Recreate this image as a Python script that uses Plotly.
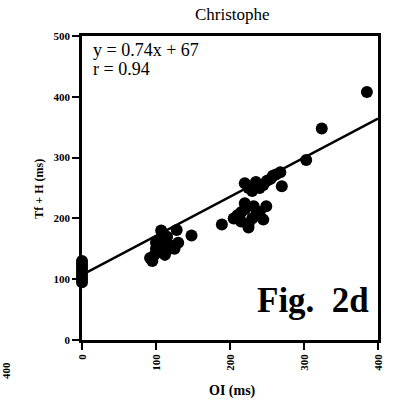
import plotly.graph_objects as go

# Data (OI in ms, Tf + H in ms)
oi = [0, 0, 0, 0, 0, 0, 0, 0,
      92, 95, 98, 100, 100, 102, 105, 108, 110, 112, 115, 107, 115, 120, 125, 128, 130, 148,
      189, 205, 210, 215, 220, 215, 225, 230, 235, 240, 245, 232, 220, 249, 225,
      220, 225, 230, 235, 240, 245, 250, 255, 262, 268, 270, 258,
      303, 324, 385]
tfh = [95, 100, 105, 110, 115, 120, 125, 130,
       135, 130, 140, 150, 160, 145, 155, 165, 150, 140, 170, 180, 148, 155, 150, 181, 160, 172,
       190, 200, 205, 210, 215, 195, 185, 200, 205, 210, 198, 220, 225, 220, 190,
       258, 250, 245, 260, 250, 255, 262, 265, 272, 276, 253, 270,
       296, 348, 408]

# Regression line as drawn in the picture (end points)
fit_x = [0, 400]
fit_y = [107, 364]

x_ticks = [0, 100, 200, 300, 400]
y_ticks = [0, 100, 200, 300, 400, 500]

SERIF = "Liberation Serif, Times New Roman, serif"

fig = go.Figure()
fig.add_trace(go.Scatter(x=fit_x, y=fit_y, mode="lines",
                         line=dict(color="black", width=2.5),
                         cliponaxis=False, hoverinfo="skip"))
fig.add_trace(go.Scatter(x=oi, y=tfh, mode="markers",
                         marker=dict(color="black", size=12),
                         cliponaxis=False))

fig.update_layout(
    width=395, height=406,
    margin=dict(l=82, r=11, t=36, b=66),
    paper_bgcolor="white", plot_bgcolor="white",
    showlegend=False,
    font=dict(family=SERIF, color="black"),
    xaxis=dict(range=[0, 400], tickvals=x_ticks, tickangle=-90,
               showgrid=False, zeroline=False,
               showline=True, linecolor="black", linewidth=2.5, mirror=True,
               ticks="outside", ticklen=7, tickwidth=2, tickcolor="black",
               tickfont=dict(family=SERIF, size=11, color="black", weight="bold")),
    yaxis=dict(range=[0, 500], tickvals=y_ticks,
               showgrid=False, zeroline=False,
               showline=True, linecolor="black", linewidth=2.5, mirror=True,
               ticks="outside", ticklen=7, tickwidth=2, tickcolor="black",
               tickfont=dict(family=SERIF, size=11, color="black", weight="bold")),
    annotations=[
        dict(text="Christophe", xref="paper", yref="paper", x=0.507, y=1.0,
             yshift=22, xanchor="center", yanchor="middle", showarrow=False,
             font=dict(family=SERIF, size=17)),
        dict(text="y = 0.74x + 67", xref="paper", yref="paper", x=0.03, y=0.955,
             xanchor="left", yanchor="middle", showarrow=False,
             font=dict(family=SERIF, size=18)),
        dict(text="r = 0.94", xref="paper", yref="paper", x=0.03, y=0.893,
             xanchor="left", yanchor="middle", showarrow=False,
             font=dict(family=SERIF, size=18)),
        dict(text="Fig.  2d", xref="paper", yref="paper", x=0.975, y=0.13,
             xanchor="right", yanchor="middle", showarrow=False,
             font=dict(family=SERIF, size=35, weight="bold")),
        dict(text="Tf + H (ms)", xref="paper", yref="paper", x=-0.146, y=0.497,
             xanchor="center", yanchor="middle", textangle=-90, showarrow=False,
             font=dict(family=SERIF, size=12, weight="bold")),
        dict(text="OI (ms)", xref="paper", yref="paper", x=0.507, y=-0.168,
             xanchor="center", yanchor="middle", showarrow=False,
             font=dict(family=SERIF, size=14, weight="bold")),
        dict(text="400", xref="paper", yref="paper", x=-0.255, y=-0.1,
             xanchor="center", yanchor="middle", textangle=-90, showarrow=False,
             font=dict(family=SERIF, size=11, weight="bold")),
    ],
)

fig.write_html("out.html")
